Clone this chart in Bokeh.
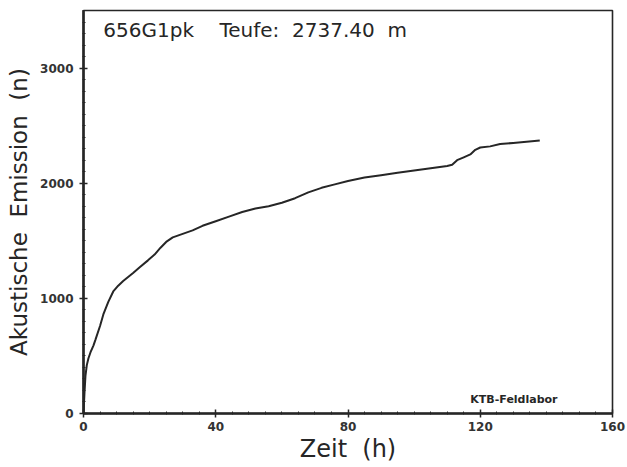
from bokeh.plotting import figure
from bokeh.models import Label, Range1d, FixedTicker
from bokeh.embed import file_html
from bokeh.resources import INLINE

# Cumulative acoustic emission count over time
zeit_h = [0, 0.3, 0.6, 1.0, 1.5, 2.1, 3, 3.6, 5, 6, 7.5, 9, 10.5, 12, 13.5, 15,
          17, 19.5, 21.5, 23.3, 25, 27, 30, 33, 36, 40, 44, 48, 52, 56, 60, 64,
          68, 72, 76, 80, 85, 90, 95, 100, 105, 110, 111.5, 113, 115, 117,
          118.5, 120, 123, 126, 130, 134, 138]
emission_n = [0, 180, 330, 420, 480, 530, 590, 640, 760, 860, 970, 1060, 1110,
              1150, 1185, 1220, 1270, 1330, 1380, 1440, 1490, 1530, 1560, 1590,
              1630, 1670, 1710, 1750, 1780, 1800, 1830, 1870, 1920, 1960, 1990,
              2020, 2050, 2070, 2090, 2110, 2130, 2150, 2160, 2200, 2225, 2250,
              2290, 2310, 2320, 2340, 2350, 2360, 2370]

x_ticks = [0, 40, 80, 120, 160]
y_ticks = [0, 1000, 2000, 3000]

ink = "#262626"
font = "DejaVu Sans"
gap = "\u00a0\u00a0"

p = figure(width=627, height=467, output_backend="svg", toolbar_location=None,
           x_range=Range1d(0, 160), y_range=Range1d(0, 3500),
           min_border_left=83, min_border_right=15, min_border_top=10,
           min_border_bottom=54)
p.grid.visible = False
p.background_fill_color = "white"
p.border_fill_color = "white"
p.outline_line_color = ink
p.outline_line_width = 1.6

p.line(zeit_h, emission_n, line_color=ink, line_width=2)

p.xaxis.ticker = FixedTicker(ticks=x_ticks,
                             minor_ticks=[i * 5 for i in range(33)])
p.yaxis.ticker = FixedTicker(ticks=y_ticks,
                             minor_ticks=[i * 100 for i in range(36)])

for ax in (p.xaxis[0], p.yaxis[0]):
    ax.axis_line_color = ink
    ax.axis_line_width = 2.6
    ax.major_tick_line_color = ink
    ax.major_tick_line_width = 1.5
    ax.major_tick_in = 4
    ax.major_tick_out = 4
    ax.minor_tick_line_color = ink
    ax.minor_tick_line_width = 1
    ax.minor_tick_in = 2
    ax.minor_tick_out = 1
    ax.major_label_text_font = font
    ax.major_label_text_font_size = "12px"
    ax.major_label_text_font_style = "bold"
    ax.major_label_text_color = "#333333"
    ax.axis_label_text_font = font
    ax.axis_label_text_font_style = "normal"
    ax.axis_label_text_color = ink

p.xaxis.axis_label = "Zeit" + gap + "(h)"
p.xaxis.axis_label_text_font_size = "24px"
p.xaxis.axis_label_standoff = 1
p.xaxis.major_label_standoff = 4

p.yaxis.axis_label = "Akustische" + gap + "Emission" + gap + "(n)"
p.yaxis.axis_label_text_font_size = "23px"
p.yaxis.axis_label_standoff = 5
p.yaxis.major_label_standoff = 6

p.add_layout(Label(x=6, y=3330,
                   text="656G1pk" + gap + gap + "Teufe:" + gap + "2737.40" + gap + "m",
                   text_font=font, text_font_size="20px", text_color=ink,
                   text_baseline="middle"))
p.add_layout(Label(x=117, y=125, text="KTB-Feldlabor", text_font=font,
                   text_font_size="11px", text_font_style="bold",
                   text_color=ink, text_baseline="middle"))

open("out.html", "w").write(file_html(p, INLINE))
